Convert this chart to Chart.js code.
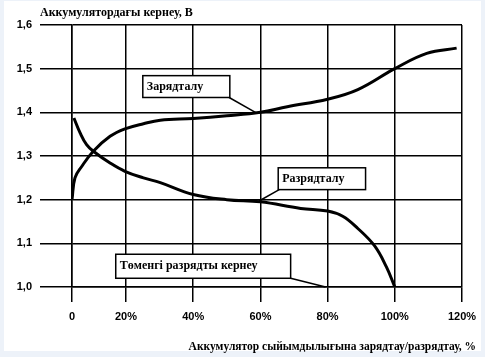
<!DOCTYPE html>
<html>
<head>
<meta charset="utf-8">
<script src="https://cdn.jsdelivr.net/npm/chart.js@4.4.1/dist/chart.umd.min.js"></script>
<style>
html,body{margin:0;padding:0;background:#edf2f9;overflow:hidden;}
#wrap{width:485px;height:357px;}
</style>
</head>
<body>
<div id="wrap"><canvas id="c" width="485" height="357"></canvas></div>
<script>
// ---- text ----
const yTitle = 'Аккумулятордағы кернеу, В';
const xTitle = 'Аккумулятор сыйымдылығына зарядтау/разрядтау, %';
const noteLabels = ['Зарядталу', 'Разрядталу', 'Төменгі разрядты кернеу'];

// ---- ticks ----
const xTickValues = [0, 20, 40, 60, 80, 100, 120];
const xTickLabels = ['0', '20%', '40%', '60%', '80%', '100%', '120%'];
const yTickValues = [1.0, 1.1, 1.2, 1.3, 1.4, 1.5, 1.6];
const yTickLabels = ['1,0', '1,1', '1,2', '1,3', '1,4', '1,5', '1,6'];

// ---- series (percent of capacity, volts) ----
const chargePct  = [0, 1.1, 3.6, 7.9, 14.1, 19.6, 25.2, 30.2, 40, 50, 60, 68, 80, 89, 100, 109.5, 118.4];
const chargeVolt = [1.20, 1.25, 1.276, 1.311, 1.345, 1.362, 1.374, 1.382, 1.386, 1.392, 1.40, 1.413, 1.43, 1.452, 1.50, 1.535, 1.547];
const dischargePct  = [0.7, 3, 5.4, 7.9, 14.1, 19.6, 25.2, 30.2, 40, 50, 60, 72, 80, 84.5, 89, 94, 97.5, 100];
const dischargeVolt = [1.387, 1.353, 1.326, 1.311, 1.284, 1.265, 1.25, 1.239, 1.212, 1.20, 1.195, 1.18, 1.174, 1.162, 1.134, 1.094, 1.046, 1.0];

// ---- annotation layout (data coordinates) ----
const noteLayout = [
  {x0: 25.0, x1: 50.9, yTop: 1.484, yBot: 1.434, fromX: 50.7, fromY: 1.434, toX: 58.9, toY: 1.398},
  {x0: 65.3, x1: 91.3, yTop: 1.273, yBot: 1.223, fromX: 65.6, fromY: 1.223, toX: 59.6, toY: 1.197},
  {x0: 16.2, x1: 69.0, yTop: 1.075, yBot: 1.020, fromX: 69.0, fromY: 1.020, toX: 79.4, toY: 1.0}
];

// The original axis draws the 0–20% span shorter than the other 20% steps.
const X_BREAK_VALUE = 20;
const X_BREAK_FRACTION = 54 / 390;
const X_MAX = 120;

class PiecewiseScale extends Chart.LinearScale {
  _toDecimal(v) {
    if (v <= X_BREAK_VALUE) return (v / X_BREAK_VALUE) * X_BREAK_FRACTION;
    return X_BREAK_FRACTION + (v - X_BREAK_VALUE) / (X_MAX - X_BREAK_VALUE) * (1 - X_BREAK_FRACTION);
  }
  getPixelForValue(value) {
    if (value === null || value === undefined || isNaN(value)) return NaN;
    return this.getPixelForDecimal(this._toDecimal(value));
  }
  getValueForPixel(pixel) {
    const d = this.getDecimalForPixel(pixel);
    if (d <= X_BREAK_FRACTION) return d / X_BREAK_FRACTION * X_BREAK_VALUE;
    return X_BREAK_VALUE + (d - X_BREAK_FRACTION) / (1 - X_BREAK_FRACTION) * (X_MAX - X_BREAK_VALUE);
  }
}
PiecewiseScale.id = 'piecewise';
PiecewiseScale.defaults = Chart.LinearScale.defaults;
Chart.register(PiecewiseScale);

const toPoints = (xs, ys) => xs.map((x, i) => ({x: x, y: ys[i]}));

const tickFont = {family: '"Liberation Sans", Arial, sans-serif', size: 11, weight: 'bold'};
const serifBold = 'bold 12px "Liberation Serif", "Times New Roman", serif';
const serifBoldSmall = 'bold 11.5px "Liberation Serif", "Times New Roman", serif';

const bgPlugin = {
  id: 'bg',
  beforeDraw(chart) {
    const ctx = chart.ctx;
    ctx.save();
    ctx.fillStyle = '#edf2f9';
    ctx.fillRect(0, 0, chart.width, chart.height);
    ctx.fillStyle = '#ffffff';
    ctx.fillRect(4, 1, 477, 350);
    ctx.restore();
  }
};

const notesPlugin = {
  id: 'notes',
  afterDatasetsDraw(chart) {
    const ctx = chart.ctx, xs = chart.scales.x, ys = chart.scales.y;
    ctx.save();
    noteLayout.forEach((n, i) => {
      const l = xs.getPixelForValue(n.x0), r = xs.getPixelForValue(n.x1);
      const t = ys.getPixelForValue(n.yTop), b = ys.getPixelForValue(n.yBot);
      ctx.strokeStyle = '#000';
      ctx.lineWidth = 1.5;
      ctx.beginPath();
      ctx.moveTo(xs.getPixelForValue(n.fromX), ys.getPixelForValue(n.fromY));
      ctx.lineTo(xs.getPixelForValue(n.toX), ys.getPixelForValue(n.toY));
      ctx.stroke();
      ctx.fillStyle = '#fff';
      ctx.fillRect(l, t, r - l, b - t);
      ctx.strokeRect(l, t, r - l, b - t);
      ctx.fillStyle = '#000';
      ctx.font = serifBold;
      ctx.textAlign = 'left';
      ctx.textBaseline = 'middle';
      ctx.fillText(noteLabels[i], l + 4, (t + b) / 2);
    });
    ctx.restore();
  },
  afterDraw(chart) {
    const ctx = chart.ctx, a = chart.chartArea;
    ctx.save();
    ctx.fillStyle = '#000';
    ctx.textBaseline = 'middle';
    ctx.textAlign = 'left';
    ctx.font = serifBold;
    ctx.fillText(yTitle, a.left - 32, 13);
    ctx.textAlign = 'right';
    ctx.font = serifBoldSmall;
    ctx.fillText(xTitle, a.right + 14, 347);
    ctx.restore();
  }
};

new Chart(document.getElementById('c'), {
  type: 'line',
  data: {
    datasets: [
      {label: noteLabels[0], data: toPoints(chargePct, chargeVolt), borderColor: '#000', borderWidth: 3,
       pointRadius: 0, tension: 0.4, fill: false},
      {label: noteLabels[1], data: toPoints(dischargePct, dischargeVolt), borderColor: '#000', borderWidth: 3,
       pointRadius: 0, tension: 0.4, fill: false}
    ]
  },
  options: {
    responsive: false,
    animation: false,
    devicePixelRatio: 1,
    layout: {padding: {top: 25, right: 23, bottom: 0, left: 0}},
    plugins: {legend: {display: false}, tooltip: {enabled: false}, title: {display: false}},
    scales: {
      x: {
        type: 'piecewise',
        min: 0, max: X_MAX,
        afterBuildTicks: s => { s.ticks = xTickValues.map(v => ({value: v})); },
        afterFit: s => { s.height = 70; },
        ticks: {callback: (v, i) => xTickLabels[i], font: tickFont, color: '#000', padding: 8,
                maxRotation: 0, autoSkip: false},
        grid: {color: '#000', lineWidth: 1.5, tickLength: 15, drawTicks: true},
        border: {color: '#000', width: 1.5}
      },
      y: {
        type: 'linear',
        min: 1.0, max: 1.6,
        afterBuildTicks: s => { s.ticks = yTickValues.map(v => ({value: v})); },
        afterFit: s => { s.width = 72; },
        ticks: {callback: (v, i) => yTickLabels[i], font: tickFont, color: '#000', padding: 8},
        grid: {color: '#000', lineWidth: 1.5, tickLength: 32, drawTicks: true},
        border: {color: '#000', width: 1.5}
      }
    }
  },
  plugins: [bgPlugin, notesPlugin]
});
</script>
</body>
</html>
